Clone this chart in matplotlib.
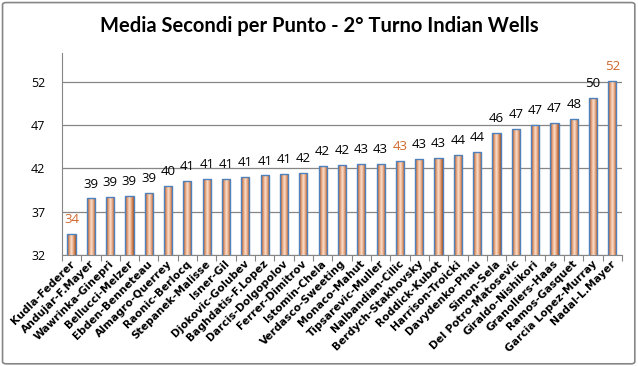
import numpy as np
import matplotlib
matplotlib.use('Agg')
from matplotlib import pyplot as plt
from matplotlib import patches
from matplotlib.colors import LinearSegmentedColormap

matches = ['Kudla-Federer', 'Andujar-F.Mayer', 'Wawrinka-Ginepri', 'Bellucci-Melzer',
           'Ebden-Benneteau', 'Almagro-Querrey', 'Raonic-Berlocq', 'Stepanek-Malisse',
           'Isner-Gil', 'Djokovic-Golubev', 'Baghdatis-F.Lopez', 'Darcis-Dolgopolov',
           'Ferrer-Dimitrov', 'Istomin-Chela', 'Verdasco-Sweeting', 'Monaco-Mahut',
           'Tipsarevic-Muller', 'Nalbandian-Cilic', 'Berdych-Stakhovsky', 'Roddick-Kubot',
           'Harrison-Troicki', 'Davydenko-Phau', 'Simon-Sela', 'Del Potro-Matosevic',
           'Giraldo-Nishikori', 'Granollers-Haas', 'Ramos-Gasquet', 'Garcia Lopez-Murray',
           'Nadal-L.Mayer']
seconds = [34.4, 38.55, 38.7, 38.8, 39.15, 40.0, 40.52, 40.75, 40.8, 41.0, 41.2, 41.4,
           41.5, 42.3, 42.4, 42.52, 42.55, 42.9, 43.1, 43.2, 43.55, 43.9, 46.1, 46.52,
           47.0, 47.25, 47.7, 50.15, 52.1]
highlight = ['Kudla-Federer', 'Nalbandian-Cilic', 'Nadal-L.Mayer']

YMIN, YMAX = 32, 55.3
yticks = [32, 37, 42, 47, 52]

fig = plt.figure(figsize=(6.38, 3.66), dpi=100)
ax = fig.add_axes([0.097, 0.303, 0.878, 0.552])

x = np.arange(len(matches))
w = 0.42
bars = ax.bar(x, seconds, width=w, bottom=0, color='none', edgecolor='#4F81BD',
              linewidth=1.0, zorder=4)

# copper look: dark sides, light middle
copper = LinearSegmentedColormap.from_list('copper_bar',
                                           ['#A9521E', '#E39C70', '#FAE2D2', '#E39C70', '#A9521E'])
grad = np.linspace(0, 1, 64).reshape(1, -1)
for xi, v, b in zip(x, seconds, bars):
    im = ax.imshow(grad, extent=[xi - w / 2, xi + w / 2, YMIN, v], aspect='auto',
                   cmap=copper, zorder=3, interpolation='bilinear')
    im.set_clip_path(b)
    col = '#D0672A' if matches[xi] in highlight else 'black'
    ax.text(xi, v + 0.9, '%d' % int(v + 0.5), ha='center', va='bottom', fontsize=9.5,
            color=col, family='Open Sans')

ax.set_xlim(-0.5, len(matches) - 0.5)
ax.set_ylim(YMIN, YMAX)
ax.set_yticks(yticks)
ax.set_yticklabels([str(t) for t in yticks], family='Open Sans', fontsize=9)
ax.yaxis.grid(True, color='#868686', linewidth=0.9, zorder=0)
ax.set_axisbelow(True)
ax.tick_params(axis='y', length=0, pad=12)

ax.set_xticks(np.arange(len(matches) + 1) - 0.5, minor=False)
ax.set_xticklabels([])
ax.tick_params(axis='x', direction='out', length=4, color='#868686')
for xi, name in zip(x, matches):
    ax.text(xi + 0.1, YMIN - 0.8, name, rotation=45, rotation_mode='anchor',
            ha='right', va='center', fontsize=7.7, fontweight='bold',
            family='DejaVu Sans', transform=ax.transData)

for s in ['top', 'right']:
    ax.spines[s].set_visible(False)
for s in ['left', 'bottom']:
    ax.spines[s].set_color('#868686')

fig.text(0.5, 0.93, 'Media Secondi per Punto - 2° Turno Indian Wells', ha='center',
         va='center', fontsize=14.5, fontweight='bold', family='Lato')

fig.patches.append(patches.FancyBboxPatch((0.004, 0.006), 0.991, 0.987,
                                          boxstyle='round,pad=0,rounding_size=0.006',
                                          transform=fig.transFigure, fill=False,
                                          ec='#868686', lw=1.2))

fig.savefig('out.png', dpi=100)
